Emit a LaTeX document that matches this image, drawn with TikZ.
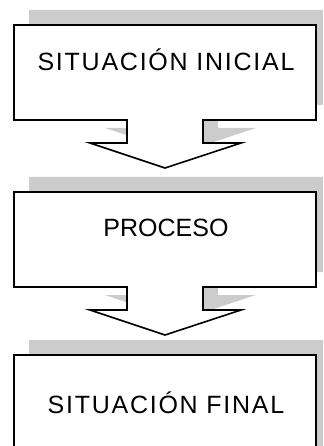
\documentclass[tikz,border=0pt]{standalone}
\usepackage{fontspec}
\setmainfont{Liberation Sans}
\newfontfamily\boxfont[LetterSpace=7]{Liberation Sans}
\begin{document}
\begin{tikzpicture}[x=1bp,y=-1bp,
  shade box/.style={fill=black!20,draw=none},
  call box/.style={fill=white,draw=black,line width=1.6bp,line join=miter},
  lbl/.style={inner sep=0pt,anchor=base,font=\fontsize{25bp}{30bp}\selectfont},
  lblsp/.style={inner sep=0pt,anchor=base,font=\fontsize{25bp}{30bp}\boxfont}]
\useasboundingbox (0,0) rectangle (323,446);
\clip (0,0) rectangle (323,446);
% callout outline as a macro of vertical offset
\newcommand{\calloutpath}[1]{(14,25+#1) -- (316,25+#1) -- (316,120+#1) -- (203,120+#1) -- (203,143+#1) -- (241,143+#1) -- (165,168+#1) -- (90,143+#1) -- (127,143+#1) -- (127,120+#1) -- (14,120+#1) -- cycle}
% first callout
\fill[shade box,shift={(15,-15)}] \calloutpath{0};
\draw[call box] \calloutpath{0};
\node[lblsp] (s1) at (166,71) {SITUACIÓN INICIAL};
% second callout
\fill[shade box,shift={(15,-15)}] \calloutpath{167};
\draw[call box] \calloutpath{167};
\node[lbl] (s2) at (166,236.5) {PROCESO};
% third box
\fill[shade box] (29,340) rectangle (340,470);
\draw[call box] (14,355) rectangle (316,470);
\node[lblsp] (s3) at (166,413) {SITUACIÓN FINAL};
\end{tikzpicture}
\end{document}
